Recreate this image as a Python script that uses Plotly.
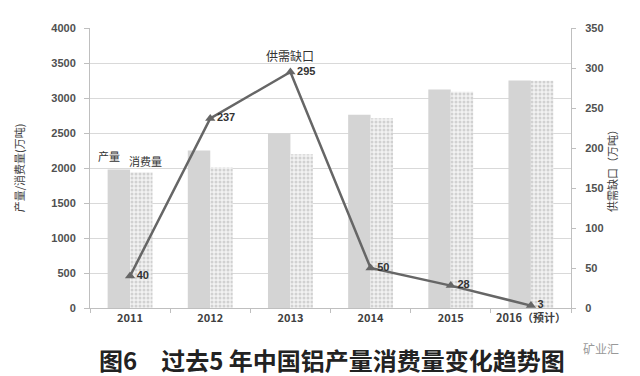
import plotly.graph_objects as go

years = ["2011", "2012", "2013", "2014", "2015", "2016（预计）"]
production = [1980, 2250, 2495, 2760, 3120, 3250]
consumption = [1940, 2010, 2195, 2710, 3090, 3247]
gap = [40, 237, 295, 50, 28, 3]
gap_labels = ["40", "237", "295", "50", "28", "3"]

font = "Liberation Sans, DejaVu Sans, Noto Sans CJK SC"
cjk = "Noto Sans CJK SC"

fig = go.Figure()
fig.add_trace(go.Bar(
    x=years, y=production, name="产量",
    marker=dict(color="#d4d4d4", line=dict(width=0)),
))
fig.add_trace(go.Bar(
    x=years, y=consumption, name="消费量",
    marker=dict(color="#e6e6e6", line=dict(width=0),
                pattern=dict(shape=".", fgcolor="#b0b0b0", bgcolor="#f2f2f2",
                             size=4, solidity=0.45)),
))
fig.add_trace(go.Scatter(
    x=years, y=gap, yaxis="y2", name="供需缺口",
    mode="lines+markers+text",
    line=dict(color="#666666", width=2.5),
    marker=dict(symbol="triangle-up", size=9, color="#666666"),
    text=gap_labels, textposition="middle right",
    textfont=dict(family=font, size=11, color="#333333", weight="bold"),
))

i2011 = years.index("2011")
i2013 = years.index("2013")
fig.add_annotation(x=i2011, y=production[i2011], xshift=-21, yshift=13,
                   text="产量", showarrow=False,
                   font=dict(family=cjk, size=11, color="#333333"))
fig.add_annotation(x=i2011, y=consumption[i2011], xshift=15, yshift=11,
                   text="消费量", showarrow=False,
                   font=dict(family=cjk, size=11, color="#333333"))
fig.add_annotation(x=i2013, y=gap[i2013], yref="y2", yshift=17,
                   text="供需缺口", showarrow=False,
                   font=dict(family=cjk, size=12, color="#333333"))
fig.add_annotation(x=0.503, y=-0.185, xref="paper", yref="paper",
                   text="<b>图6　过去5 年中国铝产量消费量变化趋势图</b>", showarrow=False,
                   xanchor="center", yanchor="middle",
                   font=dict(family=cjk, size=24, color="#222222"))
fig.add_annotation(x=1.062, y=-0.143, xref="paper", yref="paper",
                   text="矿业汇", showarrow=False,
                   xanchor="center", yanchor="middle",
                   font=dict(family=cjk, size=12, color="#999999"))

tickfont = dict(family=font, size=11, color="#505050", weight="bold")

fig.update_layout(
    width=640, height=376,
    margin=dict(l=82, r=77, t=20, b=76),
    paper_bgcolor="white", plot_bgcolor="white",
    showlegend=False,
    barmode="group", bargap=0.44, bargroupgap=0.0,
    font=dict(family=font, size=11, color="#404040"),
    xaxis=dict(
        type="category", range=[-0.5, len(years) - 0.5], automargin=False,
        showgrid=False, showline=True, linecolor="#bfbfbf", linewidth=1,
        ticks="outside", tickson="boundaries", ticklen=4, tickcolor="#bfbfbf",
        tickfont=dict(family=cjk, size=11, color="#404040", weight="bold"),
    ),
    yaxis=dict(
        range=[0, 4000], dtick=500, showgrid=True, gridcolor="#d9d9d9",
        showline=True, linecolor="#bfbfbf", ticks="outside", ticklen=5,
        tickcolor="#bfbfbf", zeroline=False, automargin=False,
        tickfont=tickfont, ticklabelstandoff=6,
        title=dict(text="产量/消费量(万吨)", font=dict(family=cjk, size=11, color="#404040"),
                   standoff=24),
    ),
    yaxis2=dict(
        range=[0, 350], dtick=50, overlaying="y", side="right",
        showgrid=False, showline=True, linecolor="#bfbfbf", ticks="outside",
        ticklen=4, tickcolor="#bfbfbf", zeroline=False, automargin=False,
        tickfont=tickfont, ticklabelstandoff=7,
        title=dict(text="供需缺口（万吨）", font=dict(family=cjk, size=11, color="#404040"),
                   standoff=6),
    ),
)

fig.write_html("out.html")
